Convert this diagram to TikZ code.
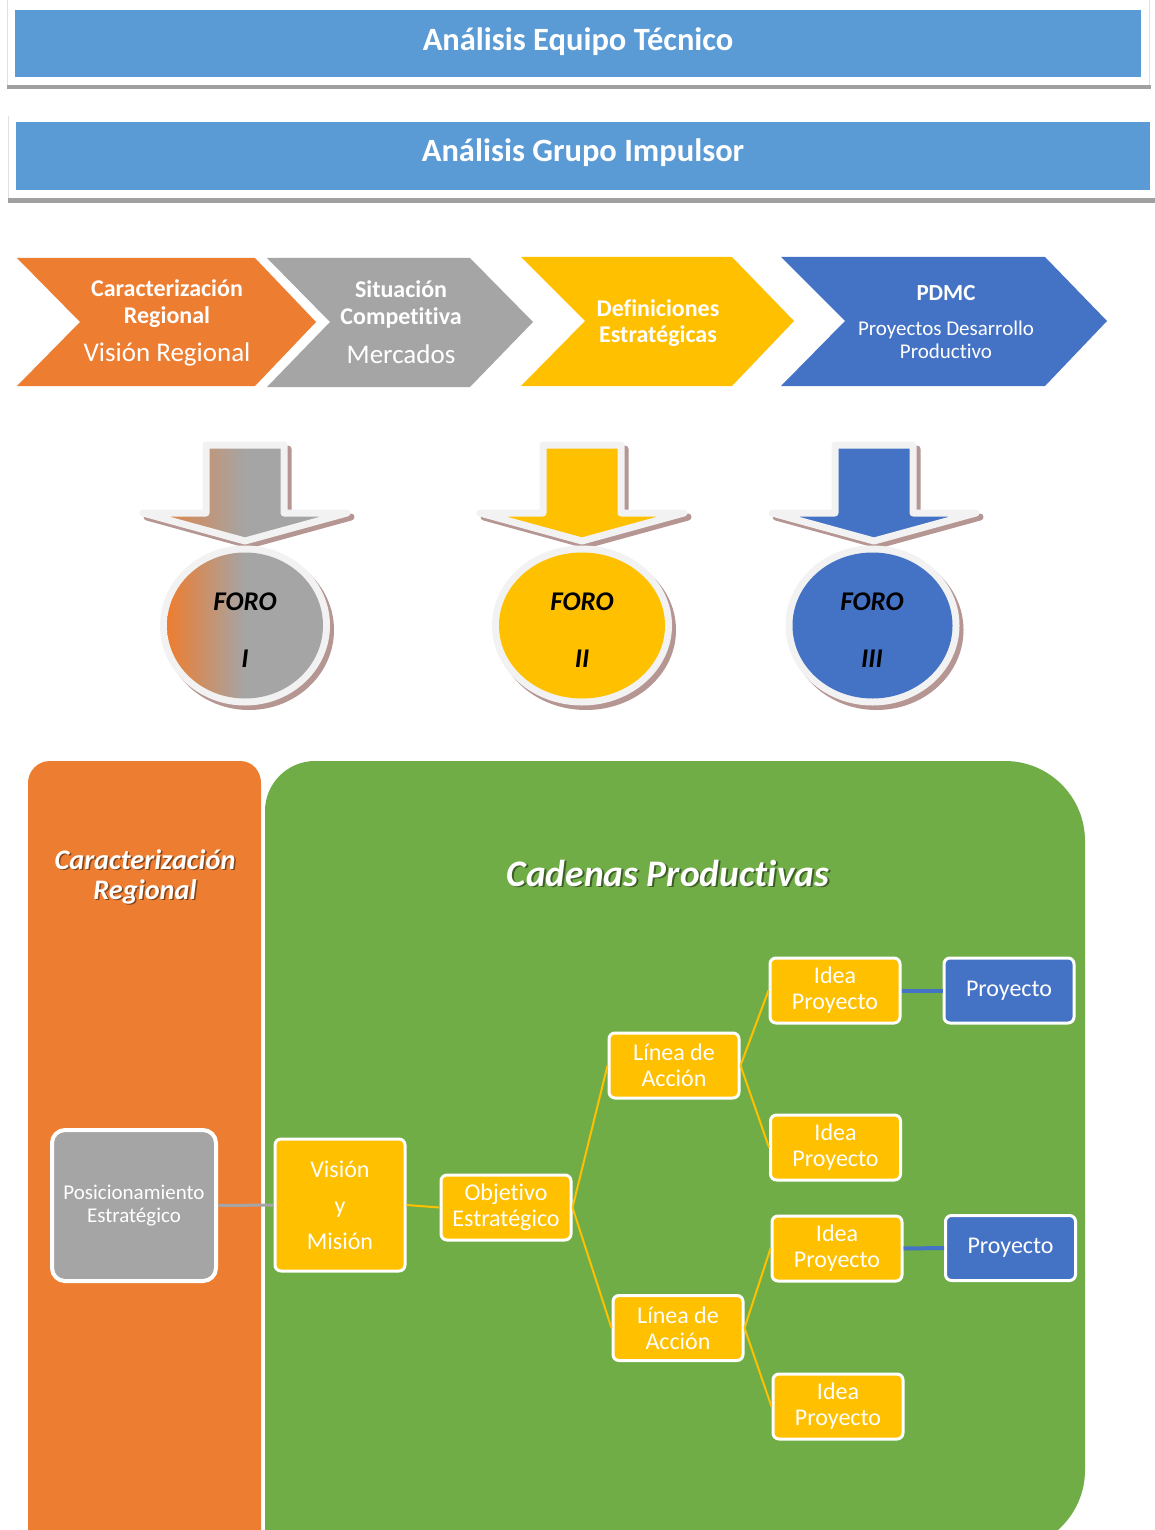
\documentclass[tikz,border=0pt]{standalone}
\usepackage{fontspec}
\setmainfont{Carlito}[Ligatures=NoCommon]
\usetikzlibrary{calc}
\definecolor{cBan}{HTML}{5B9BD5}
\definecolor{cOr}{HTML}{ED7D31}
\definecolor{cGr}{HTML}{A5A5A5}
\definecolor{cYl}{HTML}{FFC000}
\definecolor{cBl}{HTML}{4472C4}
\definecolor{cGn}{HTML}{70AD47}
\definecolor{cSh}{HTML}{B59693}
\definecolor{cRing}{HTML}{F2F2F2}
\definecolor{cFrame}{HTML}{A0A0A0}
\pgfdeclarehorizontalshading{orgr}{100bp}{color(0bp)=(cOr); color(25bp)=(cOr); color(50bp)=(cGr); color(100bp)=(cGr)}
\newcommand{\arrpath}[1]{(#1-39,445) -- (#1+39,445) -- (#1+39,513) -- (#1+102,513) -- (#1,541) -- (#1-102,513) -- (#1-39,513) -- cycle}
\tikzset{
  bantxt/.style={text=white, font=\fontsize{32.5}{38}\selectfont\bfseries, inner sep=0},
  chb/.style={text=white, font=\fontsize{24}{27}\selectfont\bfseries, inner sep=0, anchor=base},
  chr/.style={text=white, font=\fontsize{27}{30}\selectfont, inner sep=0, anchor=base},
  chs/.style={text=white, font=\fontsize{21}{23}\selectfont, inner sep=0, anchor=base},
  forotxt/.style={text=black, font=\fontsize{27}{30}\selectfont\bfseries\itshape, inner sep=0, anchor=base},
  bx/.style={draw=white, line width=3, rounded corners=6, fill=cYl, text=white, align=center,
     minimum width=130, minimum height=65, inner sep=0, font=\fontsize{24}{26}\selectfont},
  ylink/.style={draw=cYl, line width=2},
  blink/.style={draw=cBl, line width=4},
  arrline/.style={line width=7, line join=round},
}
\begin{document}
\begin{tikzpicture}[x=1pt,y=-1pt]
\useasboundingbox (0,0) rectangle (1155,1530);
\fill[white] (0,0) rectangle (1155,1530);
\begin{scope}
\clip (0,0) rectangle (1155,1530);
% ---- banners
\draw[gray!25, line width=0.8] (7,-2) -- (7,87) (1149,-2) -- (1149,87);
\fill[cFrame] (7,85) rectangle (1151,89);
\fill[cBan] (15,10) rectangle (1141,77);
\node[bantxt, anchor=base] (b1) at (578,51) {Análisis Equipo Técnico};
\draw[gray!25, line width=0.8] (8,116) -- (8,200);
\fill[cFrame] (8,198) rectangle (1155,203);
\fill[cBan] (16,122) rectangle (1150,190);
\node[bantxt, anchor=base] (b2) at (583,162) {Análisis Grupo Impulsor};
% ---- chevrons
\fill[cOr] (17,258) -- (255,258) -- (316,322) -- (255,386) -- (17,386) -- (80,322) -- cycle;
\fill[cGr] (267,258) -- (470,258) -- (533,322) -- (470,387) -- (267,387) -- (330,322) -- cycle;
\fill[cYl] (521,257) -- (732,257) -- (794,321) -- (732,386) -- (521,386) -- (585,321) -- cycle;
\fill[cBl] (781,257) -- (1045,257) -- (1107,321) -- (1045,386) -- (781,386) -- (845,321) -- cycle;
\node[chb] (c1a) at (167,296) {Caracterización};
\node[chb] (c1b) at (167,323) {Regional};
\node[chr] (c1c) at (167,361) {Visión Regional};
\node[chb] (c2a) at (401,297) {Situación};
\node[chb] (c2b) at (401,324) {Competitiva};
\node[chr] (c2c) at (401,363) {Mercados};
\node[chb] (c3a) at (658,316) {Definiciones};
\node[chb] (c3b) at (658,342) {Estratégicas};
\node[chb, font=\fontsize{23}{26}\selectfont\bfseries] (c4a) at (946,300) {PDMC};
\node[chs] (c4b) at (946,335) {Proyectos Desarrollo};
\node[chs] (c4c) at (946,358) {Productivo};
% ---- down arrows
\filldraw[cSh, arrline, shift={(4,4)}] \arrpath{245};
\shadedraw[shading=orgr, draw=cRing, arrline] \arrpath{245};
\filldraw[cSh, arrline, shift={(4,4)}] \arrpath{582};
\filldraw[fill=cYl, draw=cRing, arrline] \arrpath{582};
\filldraw[cSh, arrline, shift={(4,4)}] \arrpath{874};
\filldraw[fill=cBl, draw=cRing, arrline] \arrpath{874};
% ---- foro circles
\fill[cSh] (249,630) ellipse [x radius=85, y radius=80];
\fill[cRing] (245,625.5) ellipse [x radius=85, y radius=80];
\shade[shading=orgr] (245,625.5) ellipse [x radius=78, y radius=73];
\fill[cSh] (586,630) ellipse [x radius=90, y radius=80];
\fill[cRing] (582,625.5) ellipse [x radius=90, y radius=80];
\fill[cYl] (582,625.5) ellipse [x radius=83, y radius=73];
\fill[cSh] (876.5,630) ellipse [x radius=87, y radius=80];
\fill[cRing] (872.5,625.5) ellipse [x radius=87, y radius=80];
\fill[cBl] (872.5,625.5) ellipse [x radius=80, y radius=73];
\node[forotxt] (f1a) at (245,610) {FORO};
\node[forotxt] (f1b) at (245,667) {I};
\node[forotxt] (f2a) at (582,610) {FORO};
\node[forotxt] (f2b) at (582,667) {II};
\node[forotxt] (f3a) at (872,610) {FORO};
\node[forotxt] (f3b) at (872,667) {III};
% ---- panels
\fill[cOr] (28,783) .. controls (28,770.8) and (37.8,761) .. (50,761) -- (240,761)
   .. controls (252.2,761) and (261,770.8) .. (261,783) -- (261,1560) -- (28,1560) -- cycle;
\fill[cGn] (265,811) .. controls (265,783.4) and (287.4,761) .. (315,761) -- (1005,761)
   .. controls (1049.2,761) and (1085,796.8) .. (1085,841) -- (1085,1470)
   .. controls (1085,1514.2) and (1049.2,1550) .. (1005,1550) -- (265,1550) -- cycle;
\foreach \yy/\tt [count=\i] in {869/Caracterización, 899/Regional}{
  \node[text=black, opacity=0.45, font=\fontsize{28.3}{32}\selectfont\bfseries\itshape, inner sep=0, anchor=base] (crs\i) at (146.5,\yy+1.5) {\tt};
  \node[text=white, font=\fontsize{28.3}{32}\selectfont\bfseries\itshape, inner sep=0, anchor=base] (cr\i) at (145,\yy) {\tt};
}
\node[text=black, opacity=0.45, font=\fontsize{37.5}{40}\selectfont\bfseries\itshape, inner sep=0, anchor=base] (cps) at (670,887.5) {Cadenas Productivas};
\node[text=white, font=\fontsize{37.5}{40}\selectfont\bfseries\itshape, inner sep=0, anchor=base] (cp) at (668,886) {Cadenas Productivas};
% ---- boxes
\node[bx, fill=cGr, line width=4, rounded corners=13, minimum width=164, minimum height=151, font=\fontsize{21}{23}\selectfont] (pos) at (134,1205.5) {Posicionamiento\\Estratégico};
\node[bx, minimum height=132] (vm) at (340,1205) {Visión\\[10pt]y\\[10pt]Misión};
\node[bx] (obj) at (506,1207.5) {Objetivo\\Estratégico};
\node[bx] (la1) at (674,1065.5) {Línea de\\Acción};
\node[bx] (la2) at (678,1328) {Línea de\\Acción};
\node[bx] (ip1) at (835,990.5) {Idea\\Proyecto};
\node[bx] (ip2) at (835.5,1147.5) {Idea\\Proyecto};
\node[bx] (ip3) at (837,1248.5) {Idea\\Proyecto};
\node[bx] (ip4) at (838,1406.5) {Idea\\Proyecto};
\node[bx, fill=cBl] (pr1) at (1009,990.5) {Proyecto};
\node[bx, fill=cBl] (pr2) at (1010.5,1248) {Proyecto};
% ---- connectors
\draw[cGr, line width=3] (pos.east) -- (vm.west);
\draw[ylink] (vm.east) -- (obj.west);
\draw[ylink] (obj.east) -- (la1.west);
\draw[ylink] (obj.east) -- (la2.west);
\draw[ylink] (la1.east) -- (ip1.west);
\draw[ylink] (la1.east) -- (ip2.west);
\draw[ylink] (la2.east) -- (ip3.west);
\draw[ylink] (la2.east) -- (ip4.west);
\draw[blink] (ip1.east) -- (pr1.west);
\draw[blink] (ip3.east) -- (pr2.west);
\end{scope}
\end{tikzpicture}
\end{document}
